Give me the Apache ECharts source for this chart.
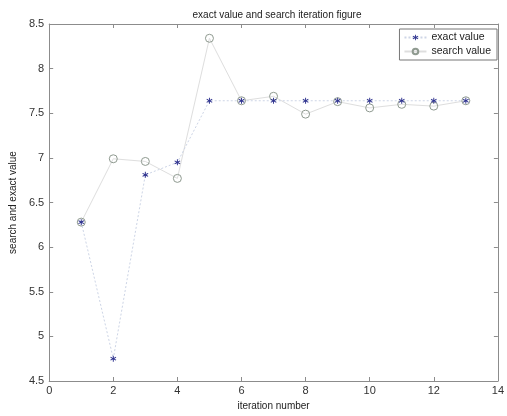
<!DOCTYPE html>
<html>
<head>
<meta charset="utf-8">
<script src="https://cdn.jsdelivr.net/npm/echarts@6/dist/echarts.min.js"></script>
<style>html,body{margin:0;padding:0;background:#fff}#c{width:507px;height:416px}</style>
</head>
<body>
<div id="c"></div>
<script>
const iterations = [1,2,3,4,5,6,7,8,9,10,11,12,13];
const exactValues = [6.28,4.75,6.81,6.95,7.64,7.64,7.64,7.64,7.64,7.64,7.64,7.64,7.64];
const searchValues = [6.28,6.99,6.96,6.77,8.34,7.64,7.69,7.49,7.63,7.56,7.60,7.58,7.64];
const xTicks = [0,2,4,6,8,10,12,14];
const yTicks = [4.5,5,5.5,6,6.5,7,7.5,8,8.5];

const font = 'Liberation Sans, Arial, sans-serif';
const axisCol = '#8c8c8c';
const star = 'path://M3.8,0 L5.2,0 L5.2,3.3 L8.2,1.6 L8.9,2.8 L6.1,4.5 L8.9,6.2 L8.2,7.4 L5.2,5.7 L5.2,9 L3.8,9 L3.8,5.7 L0.8,7.4 L0.1,6.2 L2.9,4.5 L0.1,2.8 L0.8,1.6 L3.8,3.3 Z';

const chart = echarts.init(document.getElementById('c'));
const baseAxis = {
  axisLine: {show: true, onZero: false, lineStyle: {color: axisCol, width: 1}},
  axisTick: {show: true, inside: true, length: 4, lineStyle: {color: axisCol}},
  splitLine: {show: false}
};
chart.setOption({
  animation: false,
  backgroundColor: '#fff',
  title: {
    text: 'exact value and search iteration figure',
    left: 272, top: 5, textAlign: 'center',
    textStyle: {fontFamily: font, fontSize: 10, fontWeight: 'normal', color: '#222'}
  },
  legend: {
    orient: 'vertical', right: 10, top: 29,
    itemWidth: 22, itemHeight: 7, itemGap: 3,
    padding: [3, 6, 3, 4],
    borderColor: '#777', borderWidth: 1, backgroundColor: '#fff',
    textStyle: {fontFamily: font, fontSize: 10.5, color: '#222'},
    data: ['exact value', 'search value']
  },
  grid: {left: 43.5, right: 5, top: 24, bottom: 30.5},
  xAxis: [
    Object.assign({}, baseAxis, {
      type: 'value', min: 0, max: 14, interval: 2,
      name: 'iteration number', nameLocation: 'middle', nameGap: 20,
      nameTextStyle: {fontFamily: font, fontSize: 10, color: '#222'},
      axisLabel: {fontFamily: font, fontSize: 11, color: '#333', margin: 4,
        formatter: v => xTicks.includes(v) ? String(v) : ''}
    }),
    Object.assign({}, baseAxis, {
      type: 'value', min: 0, max: 14, interval: 2, position: 'top',
      axisLabel: {show: false}
    })
  ],
  yAxis: [
    Object.assign({}, baseAxis, {
      type: 'value', min: 4.5, max: 8.5, interval: 0.5,
      name: 'search and exact value', nameLocation: 'middle', nameGap: 28,
      nameTextStyle: {fontFamily: font, fontSize: 10, color: '#222'},
      axisLabel: {fontFamily: font, fontSize: 11, color: '#333', margin: 5,
        formatter: v => yTicks.includes(v) ? String(v) : ''}
    }),
    Object.assign({}, baseAxis, {
      type: 'value', min: 4.5, max: 8.5, interval: 0.5, position: 'right',
      axisLabel: {show: false}
    })
  ],
  series: [
    {
      name: 'exact value', type: 'line',
      data: iterations.map((x, i) => [x, exactValues[i]]),
      symbol: star, symbolSize: 6,
      itemStyle: {color: '#2f338f'},
      lineStyle: {color: '#cdd5e6', width: 1, type: [2, 2]},
      z: 3
    },
    {
      name: 'search value', type: 'line',
      data: iterations.map((x, i) => [x, searchValues[i]]),
      symbol: 'circle', symbolSize: 8,
      itemStyle: {color: 'rgba(255,255,255,0)', borderColor: '#8f9a90', borderWidth: 1},
      lineStyle: {color: '#dedede', width: 1},
      z: 2
    }
  ]
});
</script>
</body>
</html>
